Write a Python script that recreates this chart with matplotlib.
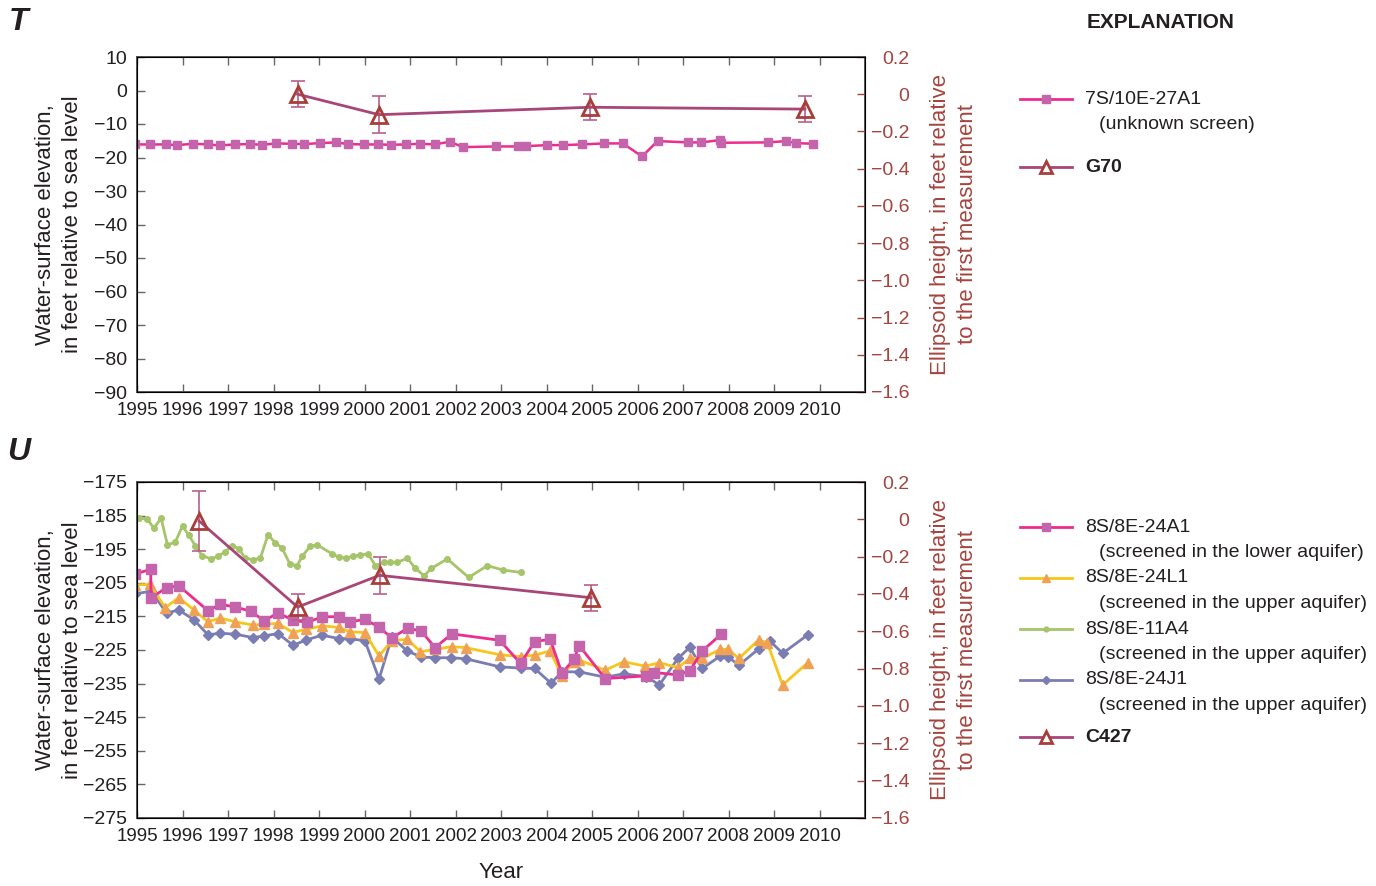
import matplotlib
matplotlib.use('Agg')
import matplotlib.pyplot as plt
from matplotlib.lines import Line2D

plt.rcParams['font.family'] = ['Liberation Sans Narrow', 'Liberation Sans', 'DejaVu Sans']

W, H = 1376, 886

# ---- panel T data ----
t_years_27a1 = [1994.95, 1995.28, 1995.64, 1995.88, 1996.24, 1996.56, 1996.82, 1997.15, 1997.49, 1997.75,
                1998.06, 1998.40, 1998.68, 1999.02, 1999.38, 1999.64, 1999.98, 2000.29, 2000.58, 2000.91,
                2001.22, 2001.54, 2001.87, 2002.17, 2002.89, 2003.37, 2003.56, 2004.02, 2004.37, 2004.77,
                2005.27, 2005.68, 2006.10, 2006.44, 2007.12, 2007.40, 2007.81, 2007.83, 2008.87, 2009.26,
                2009.49, 2009.85]
t_vals_27a1 = [-16.1, -16.1, -16.1, -16.3, -15.9, -16.1, -16.4, -16.1, -16.0, -16.2,
               -15.8, -15.9, -16.0, -15.7, -15.5, -16.0, -16.1, -16.1, -16.2, -16.1,
               -15.9, -16.1, -15.3, -16.9, -16.7, -16.7, -16.6, -16.3, -16.3, -16.1,
               -15.8, -15.8, -19.7, -15.1, -15.5, -15.5, -14.8, -15.6, -15.5, -15.1,
               -15.7, -15.9]

g70_years = [1998.53, 2000.32, 2004.96, 2009.68]
g70_vals = [0.0, -0.11, -0.07, -0.08]
g70_err = [0.07, 0.10, 0.07, 0.07]

# ---- panel U data ----
a1_years = [1994.95, 1995.30, 1995.31, 1995.65, 1995.92, 1996.56, 1996.83, 1997.16, 1997.51, 1997.79,
            1998.10, 1998.43, 1998.74, 1999.07, 1999.44, 1999.68, 2000.01, 2000.32, 2000.60, 2000.95,
            2001.25, 2001.55, 2001.92, 2002.97, 2003.43, 2003.74, 2004.08, 2004.34, 2004.60, 2004.72,
            2005.29, 2006.19, 2006.36, 2006.89, 2007.15, 2007.42, 2007.84]
a1_vals = [-202.4, -201.0, -209.5, -206.4, -205.9, -213.3, -211.4, -212.2, -213.5, -216.3,
           -214.0, -216.1, -216.8, -215.1, -215.1, -216.6, -215.9, -218.2, -221.4, -218.5,
           -219.4, -224.3, -220.2, -222.1, -229.0, -222.5, -221.8, -231.9, -227.8, -223.7,
           -233.5, -232.7, -231.7, -232.4, -231.2, -225.3, -220.3]

l1_years = [1994.95, 1995.29, 1995.62, 1995.92, 1996.25, 1996.56, 1996.83, 1997.16, 1997.55, 1997.79,
            1998.10, 1998.43, 1998.72, 1999.07, 1999.44, 1999.68, 2000.01, 2000.32, 2000.60, 2000.94,
            2001.23, 2001.56, 2001.92, 2002.22, 2002.97, 2003.45, 2003.74, 2004.08, 2004.34, 2004.60,
            2004.72, 2005.29, 2005.70, 2006.17, 2006.48, 2006.89, 2007.15, 2007.42, 2007.82, 2007.98,
            2008.23, 2008.66, 2008.85, 2009.19, 2009.74]
l1_vals = [-205.6, -205.5, -212.4, -209.4, -213.1, -216.6, -215.5, -216.6, -217.6, -217.3,
           -217.1, -219.8, -218.8, -217.8, -218.3, -219.6, -219.8, -226.8, -222.2, -221.8,
           -225.5, -224.8, -224.0, -224.3, -226.4, -227.0, -226.5, -225.3, -232.7, -228.5,
           -228.0, -231.0, -228.5, -229.8, -228.8, -230.2, -227.5, -227.5, -224.8, -224.8,
           -227.5, -222.0, -222.8, -235.4, -228.8]

a4_years = [1995.04, 1995.22, 1995.37, 1995.53, 1995.67, 1995.84, 1996.00, 1996.14, 1996.28, 1996.43,
            1996.63, 1996.77, 1996.93, 1997.09, 1997.24, 1997.38, 1997.55, 1997.71, 1997.88, 1998.04,
            1998.19, 1998.36, 1998.52, 1998.63, 1998.81, 1998.96, 1999.29, 1999.44, 1999.60, 1999.75,
            1999.91, 2000.08, 2000.24, 2000.43, 2000.57, 2000.72, 2000.94, 2001.12, 2001.31, 2001.47,
            2001.82, 2002.29, 2002.70, 2003.05, 2003.43]
a4_vals = [-185.8, -186.0, -188.7, -185.8, -193.7, -192.9, -188.1, -190.9, -193.9, -196.9,
           -197.9, -197.1, -195.9, -193.9, -194.9, -197.7, -198.1, -197.7, -190.7, -193.1,
           -194.7, -199.4, -199.9, -197.1, -194.1, -193.7, -196.4, -197.4, -197.6, -197.1,
           -196.7, -196.4, -199.9, -198.9, -198.9, -198.9, -197.7, -200.7, -202.9, -200.7,
           -197.9, -203.4, -199.9, -201.2, -201.9]

j1_years = [1994.95, 1995.31, 1995.65, 1995.92, 1996.25, 1996.56, 1996.83, 1997.16, 1997.55, 1997.79,
            1998.10, 1998.43, 1998.72, 1999.07, 1999.44, 1999.68, 2000.01, 2000.32, 2000.60, 2000.94,
            2001.25, 2001.56, 2001.91, 2002.22, 2002.97, 2003.45, 2003.74, 2004.10, 2004.34, 2004.72,
            2005.29, 2005.70, 2006.19, 2006.48, 2006.89, 2007.15, 2007.42, 2007.82, 2007.98, 2008.23,
            2008.66, 2008.91, 2009.19, 2009.74]
j1_vals = [-208.3, -207.5, -214.0, -213.1, -216.0, -220.5, -220.0, -220.3, -221.3, -220.8,
           -220.1, -223.6, -222.0, -220.6, -221.6, -221.6, -222.3, -233.6, -221.2, -225.3,
           -227.1, -227.3, -227.3, -227.6, -230.0, -230.4, -230.5, -234.9, -231.5, -231.5,
           -233.1, -232.1, -232.9, -235.4, -227.5, -224.2, -230.5, -226.8, -227.0, -229.5,
           -224.7, -222.3, -226.0, -220.5]

c427_years = [1996.37, 1998.53, 2000.33, 2004.98]
c427_vals = [-0.01, -0.47, -0.30, -0.42]
c427_err = [0.16, 0.07, 0.10, 0.07]

year_ticks = list(range(1995, 2011))
t_left_ticks = list(range(10, -91, -10))
u_left_ticks = list(range(-175, -276, -10))
right_ticks = [0.2, 0.0, -0.2, -0.4, -0.6, -0.8, -1.0, -1.2, -1.4, -1.6]

# colours
PINK, PINK_M = '#ee2c8c', '#c464ac'
YEL, YEL_M = '#f7c61b', '#efa255'
GRN = '#a6c46a'
BLU = '#7a7db3'
GPS_LINE, GPS_TRI, GPS_ERR = '#a8467a', '#a83e3a', '#b7608a'
RED_AX = '#a5443f'
SPINE = '#555555'
TXT = '#231f20'

fig = plt.figure(figsize=(W / 100, H / 100), dpi=100)


def px(x, y):
    return x / W, 1 - y / H


def fmt_right(v):
    if v == 0:
        return '0'
    return ('%.1f' % v).replace('-', '\u2212')


def setup(ax, ax2, left_ticks, ylim, xlabel=False):
    ax.set_xlim(1995, 2011)
    ax.set_ylim(*ylim)
    ax.set_xticks(year_ticks)
    ax.set_xticklabels([str(y) for y in year_ticks])
    ax.set_yticks(left_ticks)
    ax.tick_params(direction='in', length=6, width=1, color='#666666', pad=7,
                   top=True, labelcolor=TXT)
    ax.tick_params(axis='x', labelsize=13.5)
    ax.tick_params(axis='y', labelsize=14)
    for s in ax.spines.values():
        s.set_color(SPINE)
        s.set_linewidth(1.4)
    ax2.set_ylim(-1.6, 0.2)
    ax2.set_yticks(right_ticks)
    ax2.set_yticklabels([fmt_right(v) for v in right_ticks])
    ax2.tick_params(direction='in', length=6, width=1, color=RED_AX, labelcolor=RED_AX,
                    labelsize=14, pad=32)
    for lab in ax2.get_yticklabels():
        lab.set_horizontalalignment('right')
    ax.set_ylabel('Water-surface elevation,\nin feet relative to sea level', fontsize=16,
                  color=TXT, va='center', linespacing=1.35)
    ax.yaxis.set_label_coords(-0.107, 0.5)
    ax2.set_ylabel('Ellipsoid height, in feet relative\nto the first measurement', fontsize=16,
                   color=RED_AX, va='center', rotation=90, linespacing=1.4)
    ax2.yaxis.set_label_coords(1.122, 0.5)
    if xlabel:
        ax.set_xlabel('Year', fontsize=16, color=TXT, va='center')
        ax.xaxis.set_label_coords(0.5, -0.161)


# ---- Panel T ----
axT = fig.add_axes([137 / W, 1 - 392 / H, 728 / W, 335 / H])
axT2 = axT.twinx()
axT.plot(t_years_27a1, t_vals_27a1, color=PINK, lw=1.8, marker='s', ms=5.5,
         mfc=PINK_M, mec=PINK_M)
axT2.errorbar(g70_years, g70_vals, yerr=g70_err, fmt='none', ecolor=GPS_ERR,
              elinewidth=1.2, capsize=5, capthick=1.2)
axT2.plot(g70_years, g70_vals, color=GPS_LINE, lw=2, marker='^', ms=11, mfc='none',
          mec=GPS_TRI, mew=2)
setup(axT, axT2, t_left_ticks, (-90, 10))

# ---- Panel U ----
axU = fig.add_axes([137 / W, 1 - 818 / H, 728 / W, 336 / H])
axU2 = axU.twinx()
axU.plot(a4_years, a4_vals, color=GRN, lw=2, marker='o', ms=4, mfc=GRN, mec=GRN)
axU.plot(j1_years, j1_vals, color=BLU, lw=2, marker='D', ms=5, mfc=BLU, mec=BLU)
axU.plot(l1_years, l1_vals, color=YEL, lw=2, marker='^', ms=6.5, mfc=YEL_M, mec=YEL_M)
axU.plot(a1_years, a1_vals, color=PINK, lw=2, marker='s', ms=6.5, mfc=PINK_M, mec=PINK_M)
axU2.errorbar(c427_years, c427_vals, yerr=c427_err, fmt='none', ecolor=GPS_ERR,
              elinewidth=1.2, capsize=5, capthick=1.2)
axU2.plot(c427_years, c427_vals, color=GPS_LINE, lw=2, marker='^', ms=11, mfc='none',
          mec=GPS_TRI, mew=2)
setup(axU, axU2, u_left_ticks, (-275, -175), xlabel=True)

# ---- panel letters ----
fig.text(*px(9, 22), 'T', fontsize=23, fontweight='bold', fontstyle='italic',
         ha='left', va='center', color=TXT)
fig.text(*px(7, 452), 'U', fontsize=23, fontweight='bold', fontstyle='italic',
         ha='left', va='center', color=TXT)

# ---- explanation ----
fig.text(*px(1087, 22), 'EXPLANATION', fontsize=15, fontweight='bold', ha='left',
         va='center', color=TXT)


def entry(y, line_color, marker, ms, mfc, mec, mew, label, sub=None, bold=False):
    x0, yy = px(1020, y)
    x1, _ = px(1072, y)
    xm, _ = px(1046, y)
    fig.add_artist(Line2D([x0, x1], [yy, yy], color=line_color, lw=2,
                          transform=fig.transFigure))
    fig.add_artist(Line2D([xm], [yy], marker=marker, ms=ms, mfc=mfc, mec=mec, mew=mew,
                          transform=fig.transFigure, linestyle='none'))
    fig.text(*px(1085, y), label, fontsize=14, ha='left', va='center', color=TXT,
             fontweight='bold' if bold else 'normal')
    if sub:
        fig.text(*px(1099, y + 25.5), sub, fontsize=14, ha='left', va='center', color=TXT)


entry(99, PINK, 's', 5.5, PINK_M, PINK_M, 1, '7S/10E-27A1', '(unknown screen)')
entry(167, GPS_LINE, '^', 9, 'white', GPS_TRI, 2, 'G70', bold=True)

entry(527, PINK, 's', 5.5, PINK_M, PINK_M, 1, '8S/8E-24A1', '(screened in the lower aquifer)')
entry(578, YEL, '^', 5.5, YEL_M, YEL_M, 1, '8S/8E-24L1', '(screened in the upper aquifer)')
entry(629, GRN, 'o', 3.5, GRN, GRN, 1, '8S/8E-11A4', '(screened in the upper aquifer)')
entry(680, BLU, 'D', 4, BLU, BLU, 1, '8S/8E-24J1', '(screened in the upper aquifer)')
entry(737, GPS_LINE, '^', 9, 'white', GPS_TRI, 2, 'C427', bold=True)

fig.savefig('out.png', dpi=100)
